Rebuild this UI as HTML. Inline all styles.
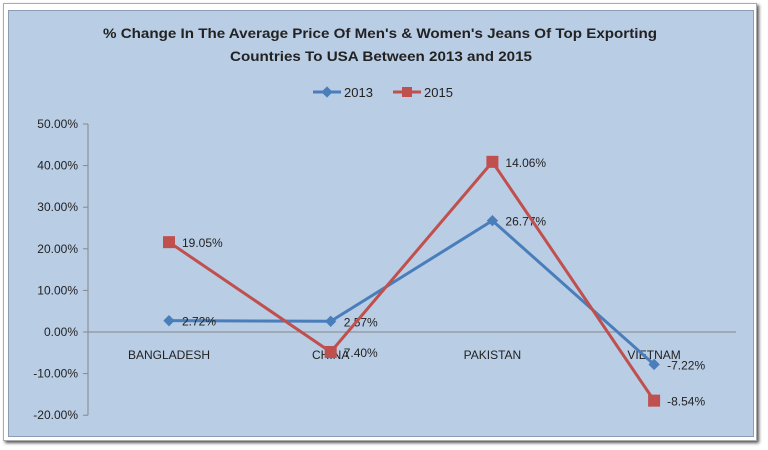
<!DOCTYPE html>
<html><head><meta charset="utf-8"><style>
body{margin:0;background:#fff;width:768px;height:450px;overflow:hidden;font-family:"Liberation Sans",sans-serif}
#frame{position:absolute;left:3px;top:3px;width:752px;height:436px;background:#fff;box-shadow:2px 2px 3px #555;border:1px solid #aaa}
#chart{position:absolute;left:8px;top:10px;width:744px;height:425px;background:#b9cde5;border:1px solid #8c9db5}
</style></head><body>
<div id="frame"></div>
<div id="chart"></div>
<svg width="768" height="450" style="position:absolute;left:0;top:0">
<g id="g"></g>
</svg>
<script>
const categories=["BANGLADESH","CHINA","PAKISTAN","VIETNAM"];
const values2013=[2.72,2.57,26.77,-7.8];
const values2015=[21.6,-4.8,40.9,-16.5];
const labels2013=["2.72%","2.57%","26.77%","-7.22%"];
const labels2015=["19.05%","7.40%","14.06%","-8.54%"];
const yTicks=[50,40,30,20,10,0,-10,-20];
const ns="http://www.w3.org/2000/svg";
const g=document.getElementById('g');
const y=v=>332-v*4.16;
const x=i=>169+i*161.7;
function mk(t,a,txt){const e=document.createElementNS(ns,t);for(const k in a)e.setAttribute(k,a[k]);if(txt!==undefined)e.textContent=txt;g.appendChild(e);return e;}
let e;
e=mk('text',{x:103,y:38,'font-size':14,'font-weight':'bold',fill:'#222',textLength:554,lengthAdjust:'spacingAndGlyphs'},"% Change In The Average Price Of  Men's & Women's Jeans Of Top Exporting");

e=mk('text',{x:230,y:61,'font-size':14,'font-weight':'bold',fill:'#222',textLength:302,lengthAdjust:'spacingAndGlyphs'},"Countries To USA Between 2013  and 2015");

// legend
e=mk('line',{x1:313,y1:92,x2:341,y2:92,stroke:'#4a7ebb','stroke-width':3});

e=mk('rect',{x:323,y:88,width:8,height:8,fill:'#4a7ebb',transform:'rotate(45 327 92)'});

e=mk('text',{x:344,y:97,'font-size':13,fill:'#222'},"2013");

e=mk('line',{x1:393,y1:92,x2:421,y2:92,stroke:'#c0504d','stroke-width':3});

e=mk('rect',{x:402,y:87,width:10,height:10,fill:'#c0504d'});

e=mk('text',{x:424,y:97,'font-size':13,fill:'#222'},"2015");

// axes
e=mk('line',{x1:88,y1:y(50),x2:88,y2:y(-20),stroke:'#888'});

yTicks.forEach(t=>{
 e=mk('line',{x1:83,y1:y(t),x2:88,y2:y(t),stroke:'#888'});
 
 e=mk('text',{x:78,y:y(t)+4,'text-anchor':'end','font-size':12,fill:'#222'},t.toFixed(2)+'%');
 
});
e=mk('line',{x1:88,y1:y(0),x2:736,y2:y(0),stroke:'#888'});

categories.forEach((c,i)=>{
 e=mk('text',{x:x(i),y:359,'text-anchor':'middle','font-size':12,fill:'#222'},c);
 
});
function series(vals,col,sq,labs,name){
 e=mk('polyline',{points:vals.map((v,i)=>x(i)+','+y(v)).join(' '),fill:'none',stroke:col,'stroke-width':3});
 
 vals.forEach((v,i)=>{
  if(sq){e=mk('rect',{x:x(i)-6,y:y(v)-6,width:12,height:12,fill:col});}
  else{e=mk('rect',{x:x(i)-4,y:y(v)-4,width:8,height:8,fill:col,transform:`rotate(45 ${x(i)} ${y(v)})`});}
  
  e=mk('text',{x:x(i)+13,y:y(v)+5,'font-size':12,fill:'#222'},labs[i]);
  
 });
}
series(values2013,'#4a7ebb',false,labels2013,'series-2013');
series(values2015,'#c0504d',true,labels2015,'series-2015');
</script>
</body></html>
